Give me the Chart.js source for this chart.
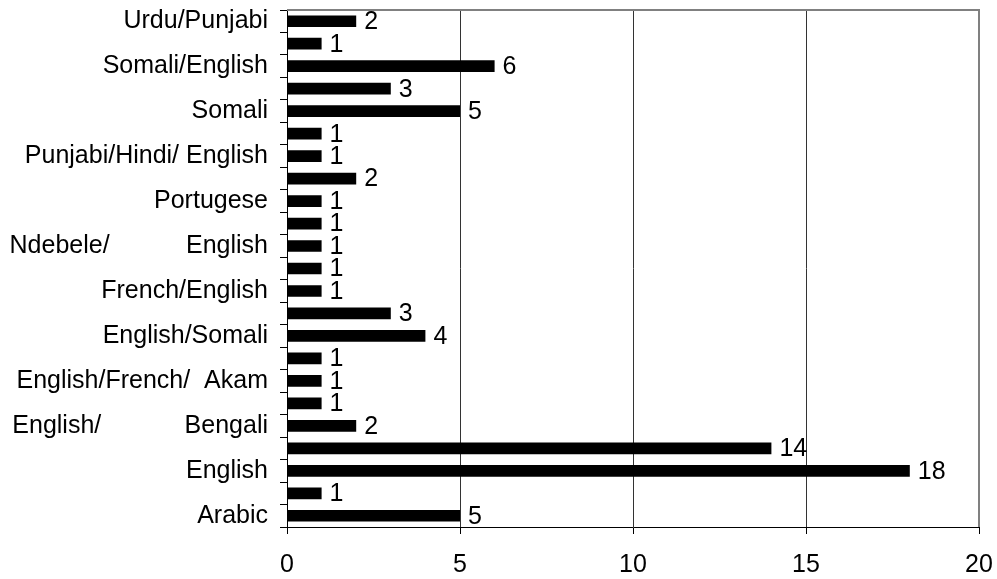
<!DOCTYPE html>
<html>
<head>
<meta charset="utf-8">
<script src="https://cdn.jsdelivr.net/npm/chart.js@4.4.1/dist/chart.umd.min.js"></script>
<style>
  html, body { margin: 0; padding: 0; background: #ffffff; }
  #wrap { width: 997px; height: 579px; position: relative; }
</style>
</head>
<body>
<div id="wrap"><canvas id="chart" width="997" height="579"></canvas></div>
<script>
// Languages spoken, listed top to bottom; blank entries are categories whose names are not printed
const languages = [
  'Urdu/Punjabi', '', 'Somali/English', '', 'Somali', '',
  'Punjabi/Hindi/ English', '', 'Portugese', '',
  'Ndebele/           English', '', 'French/English', '',
  'English/Somali', '', 'English/French/  Akam', '',
  'English/            Bengali', '', 'English', '', 'Arabic'
];
const counts = [2, 1, 6, 3, 5, 1, 1, 2, 1, 1, 1, 1, 1, 3, 4, 1, 1, 1, 2, 14, 18, 1, 5];
const xTicks = [0, 5, 10, 15, 20];

const FONT = '"Liberation Sans", Arial, sans-serif';
const FONT_SIZE = 25;

// value labels next to each bar end
const valueLabels = {
  id: 'valueLabels',
  afterDatasetsDraw(chart) {
    const ctx = chart.ctx;
    const meta = chart.getDatasetMeta(0);
    ctx.save();
    ctx.font = FONT_SIZE + 'px ' + FONT;
    ctx.fillStyle = '#000';
    ctx.textAlign = 'left';
    ctx.textBaseline = 'middle';
    meta.data.forEach((bar, i) => {
      ctx.fillText(String(counts[i]), bar.x + 8, bar.y + 1);
    });
    ctx.restore();
  }
};

// gray frame on the top and right of the plot area
const plotFrame = {
  id: 'plotFrame',
  afterDraw(chart) {
    const a = chart.chartArea;
    const ctx = chart.ctx;
    ctx.save();
    ctx.strokeStyle = '#808080';
    ctx.lineWidth = 2;
    ctx.beginPath();
    ctx.moveTo(a.left, a.top);
    ctx.lineTo(a.right, a.top);
    ctx.lineTo(a.right, a.bottom);
    ctx.stroke();
    ctx.restore();
  }
};

new Chart(document.getElementById('chart'), {
  type: 'bar',
  data: {
    labels: languages,
    datasets: [{
      data: counts,
      backgroundColor: '#000',
      borderWidth: 0,
      barPercentage: 0.52,
      categoryPercentage: 1.0
    }]
  },
  options: {
    indexAxis: 'y',
    responsive: false,
    animation: false,
    layout: { padding: { top: 10, right: 18, left: 0, bottom: 0 } },
    plugins: { legend: { display: false }, tooltip: { enabled: false } },
    scales: {
      x: {
        min: 0, max: 20,
        afterBuildTicks(scale) { scale.ticks = xTicks.map(v => ({ value: v })); },
        afterFit(scale) {
          scale.height = 52;
          scale.paddingLeft = 0;
          scale.paddingRight = 0;
        },
        ticks: {
          color: '#000',
          font: { family: FONT, size: FONT_SIZE },
          padding: 16,
          maxRotation: 0
        },
        grid: {
          color: ctx => (ctx.tick && ctx.tick.value === 0) ? '#000' : '#333',
          lineWidth: 1,
          tickColor: '#000',
          tickLength: 7,
          tickWidth: 1
        },
        border: { display: true, color: '#000', width: 1 }
      },
      y: {
        afterFit(scale) {
          scale.width = 287;
          scale.paddingTop = 0;
          scale.paddingBottom = 0;
        },
        ticks: {
          color: '#000',
          font: { family: FONT, size: FONT_SIZE },
          padding: 12,
          autoSkip: false
        },
        grid: {
          offset: true,
          drawOnChartArea: false,
          color: '#000',
          tickLength: 7,
          tickWidth: 1
        },
        border: { display: true, color: '#000', width: 1 }
      }
    }
  },
  plugins: [valueLabels, plotFrame]
});
</script>
</body>
</html>
